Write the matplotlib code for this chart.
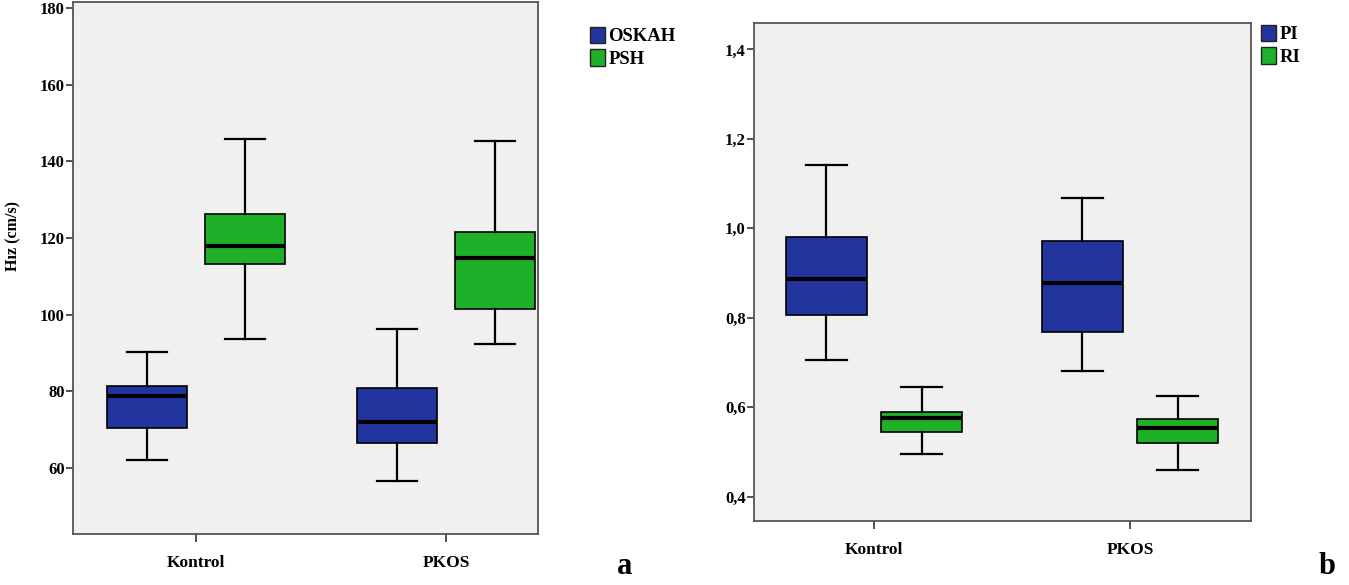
import matplotlib
matplotlib.use("Agg")
import matplotlib.pyplot as plt
from matplotlib.patches import Patch
from matplotlib.ticker import FuncFormatter

plt.rcParams['font.family'] = ['Liberation Serif', 'DejaVu Serif']
plt.rcParams['font.weight'] = 'bold'

gruplar = ['Kontrol', 'PKOS']

# panel a - Hız (cm/s): [alt bıyık, Q1, medyan, Q3, üst bıyık]
oskah = [[62.2, 70.4, 78.7, 81.3, 90.4],
         [56.5, 66.5, 71.9, 81.0, 96.4]]
psh = [[93.6, 113.2, 118.0, 126.3, 145.9],
       [92.3, 101.6, 114.9, 121.6, 145.4]]

# panel b - indeksler
pi = [[0.705, 0.806, 0.886, 0.981, 1.141],
      [0.681, 0.768, 0.878, 0.972, 1.067]]
ri = [[0.495, 0.545, 0.577, 0.590, 0.646],
      [0.460, 0.521, 0.554, 0.573, 0.625]]

mavi = '#22359e'
yesil = '#1fb02a'
arka = '#f0f0f0'


def stats(rows):
    out = []
    for r in rows:
        out.append({'whislo': r[0], 'q1': r[1], 'med': r[2], 'q3': r[3], 'whishi': r[4], 'fliers': []})
    return out


def panel(ax, s1, s2, off, w, xlim, ylim, yticks, fmt=None):
    ax.set_facecolor(arka)
    for s, renk, sgn in ((s1, mavi, -1), (s2, yesil, 1)):
        pos = [i + sgn * off for i in range(len(gruplar))]
        ax.bxp(stats(s), positions=pos, widths=w, patch_artist=True, showfliers=False,
               boxprops=dict(facecolor=renk, edgecolor='black', linewidth=1.2),
               medianprops=dict(color='black', linewidth=3),
               whiskerprops=dict(color='black', linewidth=1.6),
               capprops=dict(color='black', linewidth=1.6))
    ax.set_xlim(*xlim)
    ax.set_ylim(*ylim)
    ax.set_yticks(yticks)
    if fmt:
        ax.yaxis.set_major_formatter(FuncFormatter(fmt))
    ax.set_xticks(range(len(gruplar)))
    ax.set_xticklabels(gruplar, fontsize=12.5, fontweight='bold')
    ax.tick_params(axis='y', labelsize=12, length=5, width=1.2, color='#333333', pad=1)
    ax.tick_params(axis='x', length=6, width=1.2, color='#333333', pad=9)
    for sp in ax.spines.values():
        sp.set_color('#555555')
        sp.set_linewidth(1.3)
    h = [Patch(facecolor=mavi, edgecolor='#222222'), Patch(facecolor=yesil, edgecolor='#222222')]
    return h


fig = plt.figure(figsize=(13.49, 5.85), dpi=100)
W, H = 1349, 585

ax1 = fig.add_axes([73 / W, (H - 534) / H, (538 - 73) / W, (534 - 2) / H])
h = panel(ax1, oskah, psh, 0.196, 0.32, (-0.492, 1.368), (42.8, 181.6),
          [60, 80, 100, 120, 140, 160, 180])
ax1.set_ylabel('Hız (cm/s)', fontsize=11.5, fontweight='bold')
ax1.yaxis.set_label_coords(-0.11, 0.56)
fig.legend(h, ['OSKAH', 'PSH'], loc='upper left', bbox_to_anchor=(582 / W, 1 - 19 / H),
           frameon=False, fontsize=13.5, handlelength=0.85, handleheight=1.0,
           handletextpad=0.15, labelspacing=0.2, borderaxespad=0)

ax2 = fig.add_axes([754 / W, (H - 521) / H, (1251 - 754) / W, (521 - 23) / H])
h = panel(ax2, pi, ri, 0.186, 0.317, (-0.469, 1.473), (0.346, 1.459),
          [0.4, 0.6, 0.8, 1.0, 1.2, 1.4],
          fmt=lambda v, p: ('%.1f' % v).replace('.', ','))
fig.legend(h, ['PI', 'RI'], loc='upper left', bbox_to_anchor=(1253 / W, 1 - 17 / H),
           frameon=False, fontsize=13.5, handlelength=0.85, handleheight=1.0,
           handletextpad=0.15, labelspacing=0.2, borderaxespad=0)

fig.text(625 / W, 1 - 566 / H, 'a', fontsize=22, fontweight='bold', ha='center', va='center')
fig.text(1327 / W, 1 - 566 / H, 'b', fontsize=22, fontweight='bold', ha='center', va='center')

fig.savefig('out.png', dpi=100, facecolor='white')
